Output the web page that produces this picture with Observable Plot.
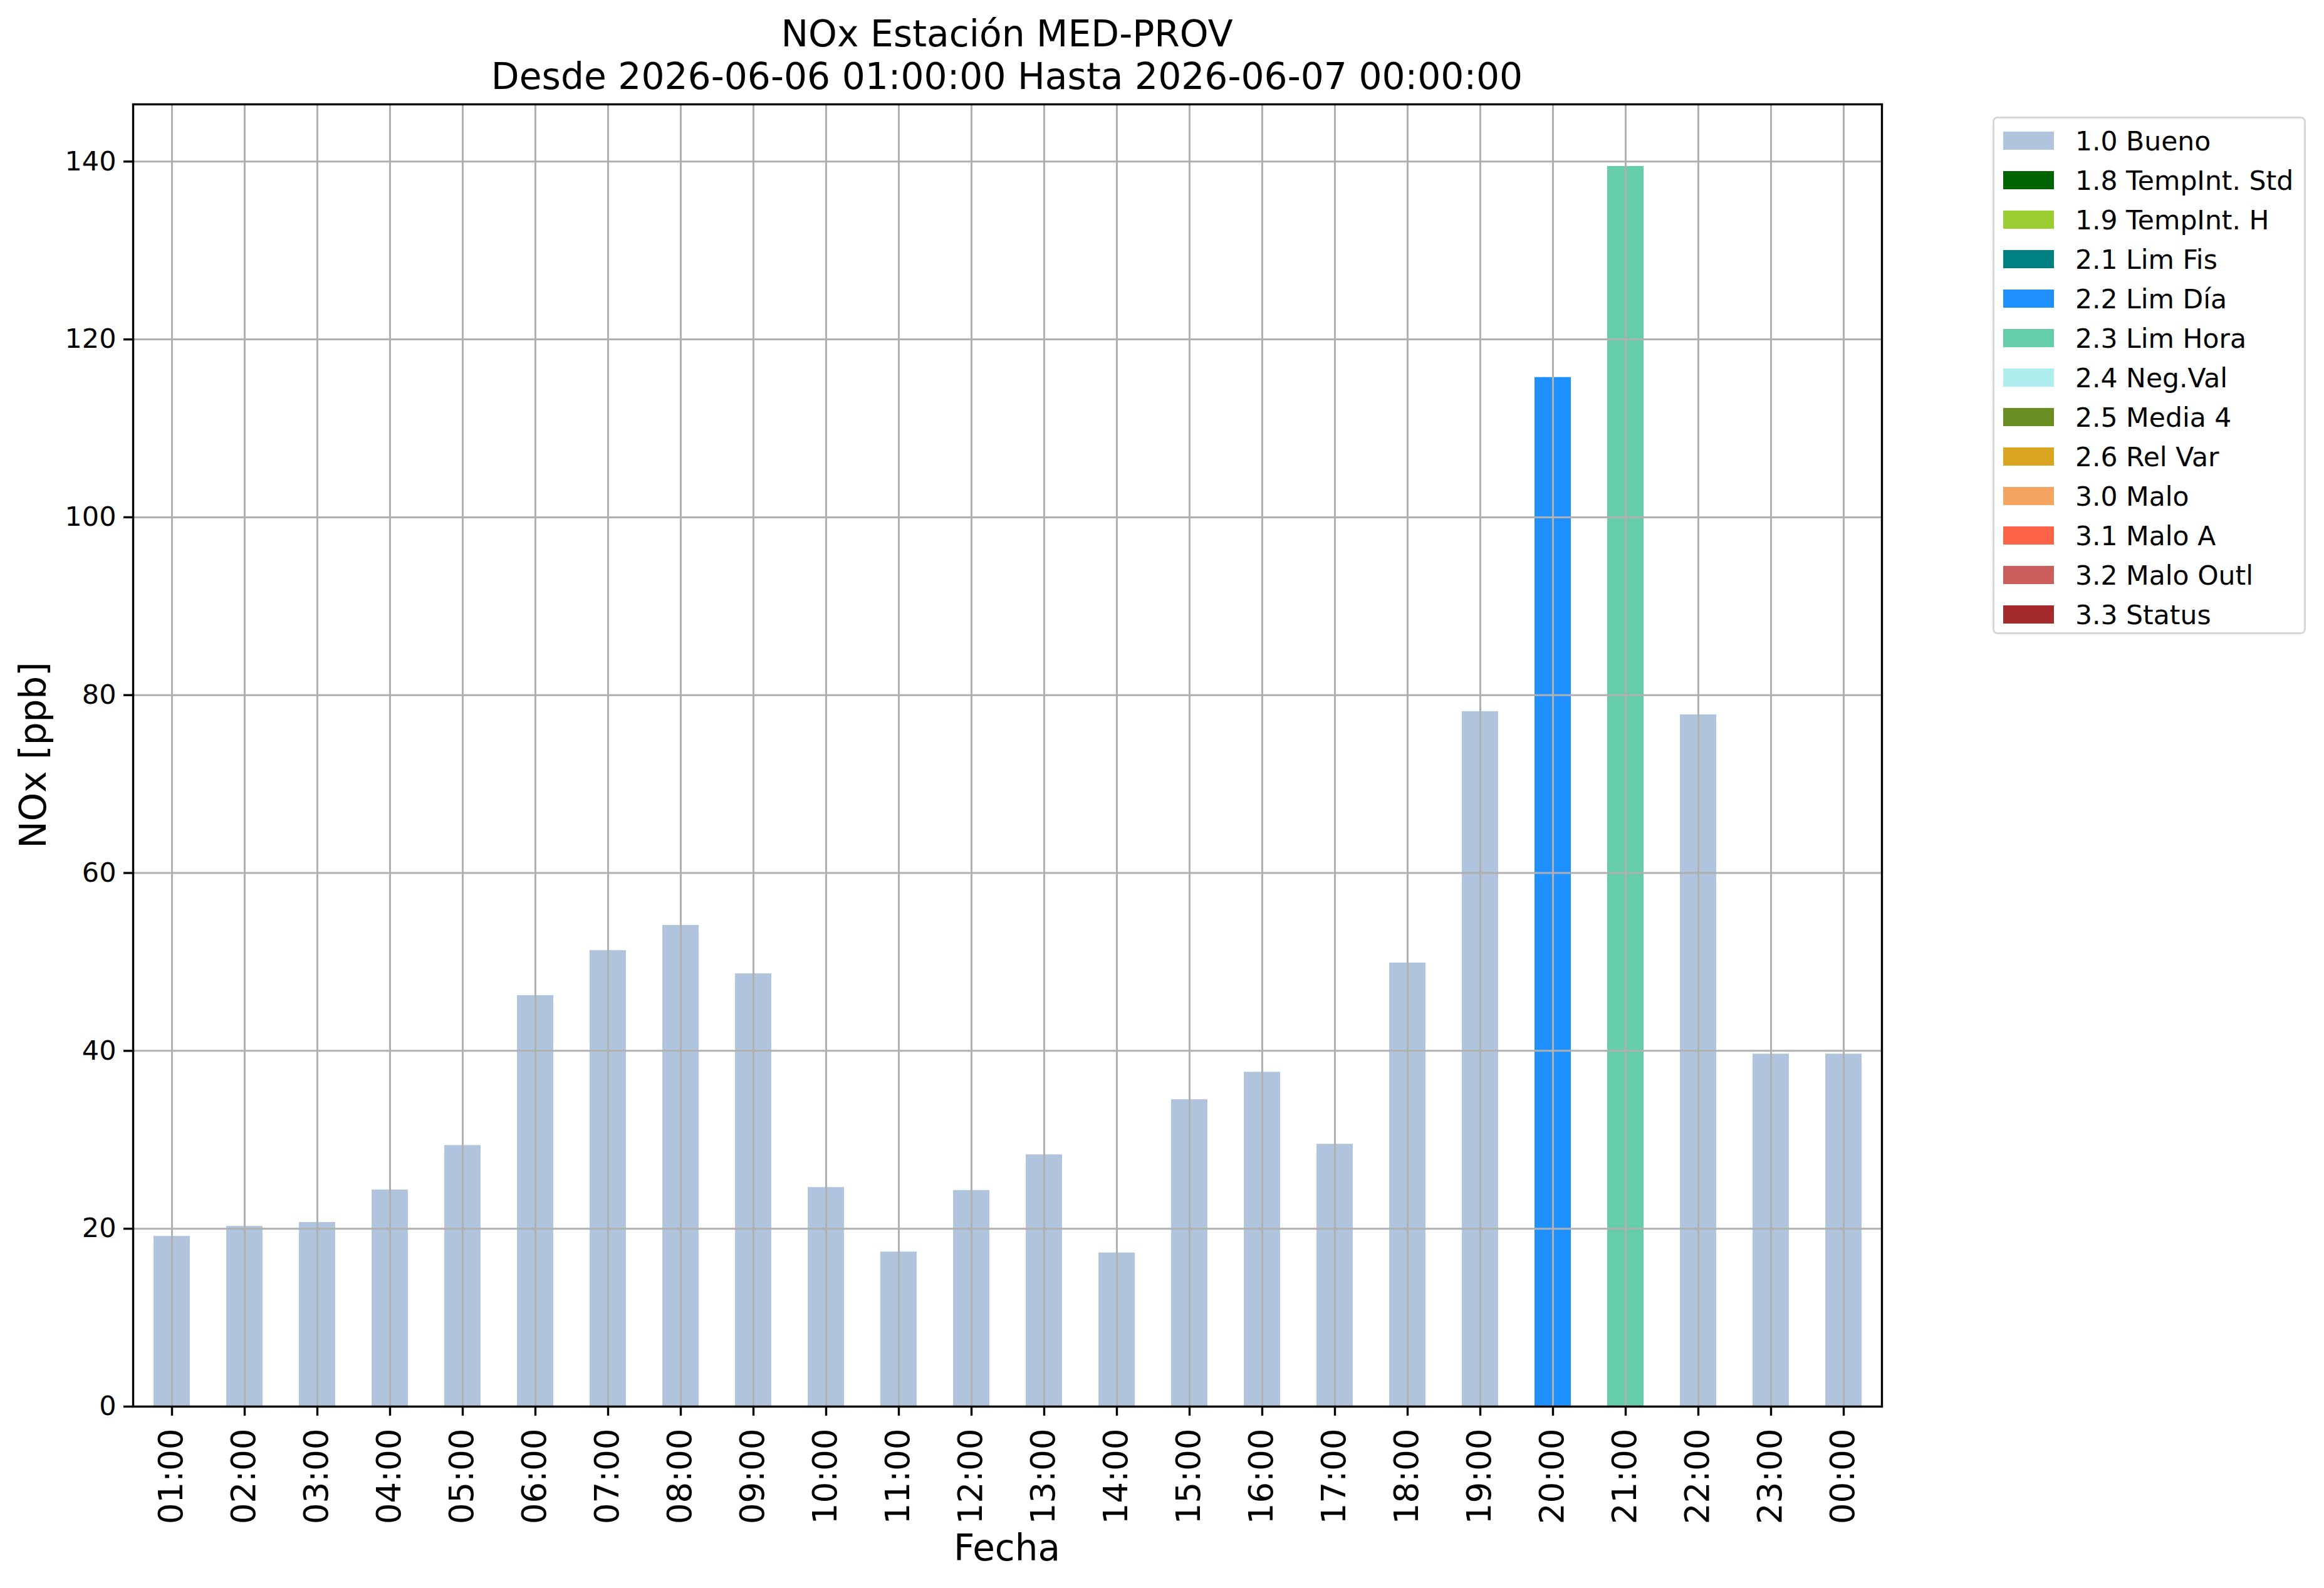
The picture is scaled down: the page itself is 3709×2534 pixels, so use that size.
<!DOCTYPE html>
<html>
<head>
<meta charset="utf-8">
<script src="https://cdn.jsdelivr.net/npm/d3@7"></script>
<script src="https://cdn.jsdelivr.net/npm/@observablehq/plot@0.6"></script>
<style>
  html, body { margin: 0; padding: 0; background: #fff; }
  body { width: 3709px; height: 2534px; position: relative; overflow: hidden; font-family: "DejaVu Sans", sans-serif; color: #000; }
  #chart { position: absolute; left: 0; top: 0; }
  .title { position: absolute; left: 0; top: 20px; width: 3214px; text-align: center; font-size: 58.3px; line-height: 68px; white-space: pre; }
  .xlabel { position: absolute; left: 1307px; top: 2441px; width: 600px; text-align: center; font-size: 58px; line-height: 58px; }
  .ylabel { position: absolute; left: -247px; top: 1176px; width: 600px; height: 58px; text-align: center; font-size: 58px; line-height: 58px; transform: rotate(-90deg); }
  .legend { position: absolute; left: 3180px; top: 186px; width: 494px; height: 820px; border: 3px solid #d6d6d6; border-radius: 8px; background: #fff; box-sizing: content-box; }
  .legend .row { position: absolute; left: 0; height: 43px; }
  .legend .sw { position: absolute; left: 14px; width: 81px; height: 29px; top: 6px; }
  .legend .lb { position: absolute; left: 129px; top: 0; font-size: 42.5px; line-height: 43px; white-space: pre; }
</style>
</head>
<body>
<div id="chart"></div>
<div class="title" id="title"></div>
<div class="xlabel" id="xlabel"></div>
<div class="ylabel" id="ylabel"></div>
<div class="legend" id="legend"></div>
<script>
// ---- data ----
const hours = ["01:00","02:00","03:00","04:00","05:00","06:00","07:00","08:00","09:00","10:00","11:00","12:00",
               "13:00","14:00","15:00","16:00","17:00","18:00","19:00","20:00","21:00","22:00","23:00","00:00"];
const values = [19.15, 20.28, 20.72, 24.37, 29.37, 46.23, 51.29, 54.12, 48.68, 24.65, 17.39, 24.31,
                28.32, 17.29, 34.52, 37.61, 29.51, 49.89, 78.16, 115.73, 139.46, 77.80, 39.65, 39.65];
const flags = ["1.0 Bueno","1.0 Bueno","1.0 Bueno","1.0 Bueno","1.0 Bueno","1.0 Bueno","1.0 Bueno","1.0 Bueno",
               "1.0 Bueno","1.0 Bueno","1.0 Bueno","1.0 Bueno","1.0 Bueno","1.0 Bueno","1.0 Bueno","1.0 Bueno",
               "1.0 Bueno","1.0 Bueno","1.0 Bueno","2.2 Lim Día","2.3 Lim Hora","1.0 Bueno","1.0 Bueno","1.0 Bueno"];
const flagLabels = ["1.0 Bueno","1.8 TempInt. Std","1.9 TempInt. H","2.1 Lim Fis","2.2 Lim Día","2.3 Lim Hora",
                    "2.4 Neg.Val","2.5 Media 4","2.6 Rel Var","3.0 Malo","3.1 Malo A","3.2 Malo Outl","3.3 Status"];
const flagColors = ["#B0C4DE","#006400","#9ACD32","#008080","#1E90FF","#66CDAA",
                    "#AFEEEE","#6B8E23","#DAA520","#F4A460","#FF6347","#CD5C5C","#A52A2A"];
const yTicks = [0, 20, 40, 60, 80, 100, 120, 140];
const titleLines = ["NOx Estación MED-PROV", "Desde 2026-06-06 01:00:00 Hasta 2026-06-07 00:00:00"];
const xLabel = "Fecha";
const yLabel = "NOx [ppb]";

const data = hours.map((h, i) => ({hour: h, value: values[i], flag: flags[i]}));

const chart = Plot.plot({
  width: 3709,
  height: 2534,
  marginLeft: 212,
  marginRight: 706,
  marginTop: 166,
  marginBottom: 290,
  style: {fontFamily: "DejaVu Sans", background: "white", color: "black", overflow: "visible"},
  x: {type: "band", domain: hours, paddingInner: 0.5, paddingOuter: 0.25, label: null},
  y: {domain: [0, d3.max(values) * 1.05], label: null},
  color: {domain: flagLabels, range: flagColors},
  marks: [
    Plot.barY(data, {x: "hour", y: "value", fill: "flag"}),
    Plot.gridX(hours, {stroke: "#b0b0b0", strokeOpacity: 1, strokeWidth: 3}),
    Plot.gridY(yTicks, {stroke: "#b0b0b0", strokeOpacity: 1, strokeWidth: 3}),
    Plot.axisY(yTicks, {tickSize: 15, tickPadding: 12, fontSize: 43, strokeWidth: 3.4, label: null, tickFormat: d3.format("d")}),
    Plot.axisX(hours, {tickSize: 15, tickPadding: 20, fontSize: 53, strokeWidth: 3.4, tickRotate: -90, label: null}),
    Plot.frame({stroke: "black", strokeWidth: 3.4})
  ]
});
document.getElementById("chart").appendChild(chart);

document.getElementById("title").textContent = titleLines.join("\n");
document.getElementById("xlabel").textContent = xLabel;
document.getElementById("ylabel").textContent = yLabel;

const legend = document.getElementById("legend");
flagLabels.forEach((lab, i) => {
  const row = document.createElement("div");
  row.className = "row";
  row.style.top = (15 + 63 * i) + "px";
  const sw = document.createElement("div");
  sw.className = "sw";
  sw.style.background = flagColors[i];
  const lb = document.createElement("div");
  lb.className = "lb";
  lb.textContent = lab;
  row.appendChild(sw);
  row.appendChild(lb);
  legend.appendChild(row);
});
</script>
</body>
</html>
